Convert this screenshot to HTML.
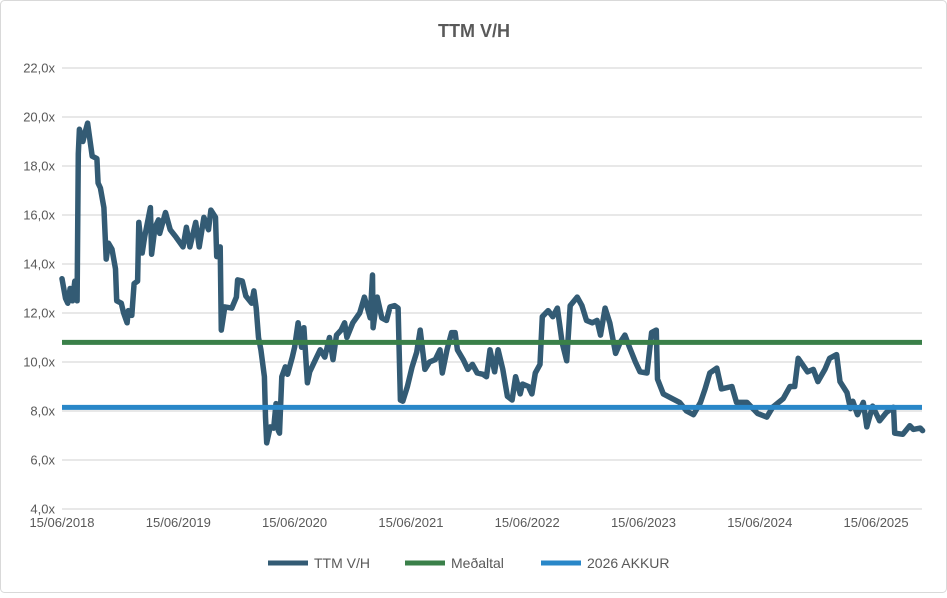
<!DOCTYPE html>
<html><head><meta charset="utf-8"><style>
body{margin:0;background:#fff;}
svg text{font-family:"Liberation Sans",sans-serif;fill:#595959;}
</style></head><body>
<svg width="947" height="593" viewBox="0 0 947 593" id="chart">
<rect x="0.5" y="0.5" width="946" height="592" rx="4" fill="#fff" stroke="#d9d9d9"/>
<text x="474" y="37" text-anchor="middle" font-size="18" font-weight="bold">TTM V/H</text>
<g id="grid"></g><g id="yticks"></g><g id="xticks"></g><g id="series"></g>
<g>
<g><line x1="268" y1="563" x2="308" y2="563" stroke="#335b74" stroke-width="5"/><text x="314" y="568" font-size="14">TTM V/H</text></g>
<g><line x1="405" y1="563" x2="445" y2="563" stroke="#3a8049" stroke-width="5"/><text x="451" y="568" font-size="14">Meðaltal</text></g>
<g><line x1="541" y1="563" x2="581" y2="563" stroke="#2987c8" stroke-width="5"/><text x="587" y="568" font-size="14">2026 AKKUR</text></g>
</g>
</svg>
<script>
const yTicks=[4,6,8,10,12,14,16,18,20,22];
const yTickLabels=["4,0x","6,0x","8,0x","10,0x","12,0x","14,0x","16,0x","18,0x","20,0x","22,0x"];
const xTickYears=[2018.45,2019.45,2020.45,2021.45,2022.45,2023.45,2024.45,2025.45];
const xTickLabels=["15/06/2018","15/06/2019","15/06/2020","15/06/2021","15/06/2022","15/06/2023","15/06/2024","15/06/2025"];
const medaltal=10.8;
const akkur=8.15;
const dates=[2018.45,2018.48,2018.50,2018.52,2018.54,2018.56,2018.58,2018.59,2018.60,2018.63,2018.65,2018.67,2018.71,2018.75,2018.76,2018.78,2018.81,2018.83,2018.85,2018.88,2018.91,2018.92,2018.96,2018.98,2019.01,2019.02,2019.05,2019.07,2019.10,2019.11,2019.14,2019.16,2019.21,2019.22,2019.25,2019.28,2019.29,2019.34,2019.38,2019.43,2019.49,2019.52,2019.55,2019.60,2019.63,2019.67,2019.71,2019.73,2019.77,2019.78,2019.81,2019.82,2019.85,2019.91,2019.95,2019.96,2020.00,2020.03,2020.08,2020.10,2020.12,2020.14,2020.16,2020.19,2020.20,2020.21,2020.24,2020.27,2020.29,2020.31,2020.32,2020.34,2020.37,2020.39,2020.43,2020.45,2020.48,2020.51,2020.53,2020.56,2020.58,2020.63,2020.67,2020.71,2020.75,2020.78,2020.81,2020.85,2020.88,2020.90,2020.95,2021.01,2021.05,2021.10,2021.12,2021.125,2021.16,2021.20,2021.24,2021.27,2021.31,2021.34,2021.36,2021.38,2021.42,2021.46,2021.50,2021.53,2021.57,2021.61,2021.66,2021.70,2021.72,2021.76,2021.80,2021.83,2021.85,2021.90,2021.94,2021.98,2022.02,2022.07,2022.10,2022.13,2022.17,2022.20,2022.24,2022.28,2022.32,2022.35,2022.39,2022.41,2022.46,2022.49,2022.52,2022.56,2022.58,2022.63,2022.67,2022.71,2022.75,2022.79,2022.82,2022.88,2022.92,2022.96,2023.01,2023.05,2023.08,2023.12,2023.16,2023.21,2023.25,2023.29,2023.33,2023.38,2023.42,2023.48,2023.52,2023.56,2023.57,2023.62,2023.70,2023.76,2023.82,2023.88,2023.94,2023.98,2024.02,2024.08,2024.12,2024.21,2024.25,2024.34,2024.43,2024.51,2024.56,2024.65,2024.71,2024.75,2024.78,2024.86,2024.91,2024.95,2025.01,2025.05,2025.11,2025.14,2025.20,2025.23,2025.25,2025.29,2025.34,2025.37,2025.42,2025.48,2025.54,2025.60,2025.61,2025.68,2025.74,2025.77,2025.83,2025.85];
const ttmValues=[13.4,12.6,12.4,13.0,12.5,13.3,12.5,18.5,19.5,19.0,19.4,19.75,18.4,18.3,17.3,17.1,16.3,14.2,14.85,14.6,13.8,12.5,12.4,12.0,11.6,12.1,11.9,13.2,13.3,15.7,14.45,15.1,16.3,14.4,15.5,15.8,15.25,16.1,15.4,15.1,14.7,15.5,14.7,15.7,14.7,15.9,15.4,16.2,15.9,14.3,14.7,11.3,12.25,12.2,12.65,13.35,13.3,12.7,12.4,12.9,12.2,11.0,10.5,9.4,7.75,6.7,7.35,7.3,8.3,7.2,7.1,9.4,9.8,9.5,10.2,10.6,11.6,10.6,11.4,9.15,9.6,10.1,10.5,10.2,11.0,10.1,11.1,11.3,11.6,11.0,11.6,12.0,12.65,11.8,13.55,11.4,12.65,11.8,11.7,12.25,12.3,12.2,8.45,8.4,9.0,9.8,10.4,11.3,9.7,10.0,10.1,10.5,9.55,10.5,11.2,11.2,10.5,10.1,9.7,9.9,9.55,9.5,9.4,10.5,9.6,10.5,9.7,8.6,8.45,9.4,8.7,9.1,9.0,8.7,9.55,9.9,11.85,12.1,11.85,12.2,10.8,10.05,12.3,12.65,12.3,11.7,11.6,11.7,11.1,12.2,11.6,10.35,10.8,11.1,10.6,10.0,9.6,9.55,11.2,11.3,9.3,8.7,8.5,8.35,8.0,7.85,8.35,8.9,9.55,9.75,8.9,9.0,8.35,8.35,7.9,7.75,8.15,8.5,9.0,9.0,10.15,9.6,9.7,9.2,9.7,10.15,10.3,9.2,8.75,8.1,8.4,7.85,8.35,7.35,8.2,7.6,7.95,8.15,7.1,7.05,7.4,7.25,7.3,7.2];

const NS="http://www.w3.org/2000/svg";
const L=62,R=922,T=68,B=509,Y0=4,Y1=22,X0=2018.45,PXY=116.3;
function xs(t){return L+(t-X0)*PXY;}
function ys(v){return B-(v-Y0)/(Y1-Y0)*(B-T);}
function mk(tag,attrs,parent){const e=document.createElementNS(NS,tag);for(const k in attrs)e.setAttribute(k,attrs[k]);parent.appendChild(e);return e;}
const grid=document.getElementById('grid'),yt=document.getElementById('yticks'),xt=document.getElementById('xticks'),se=document.getElementById('series');
yTicks.forEach((v,i)=>{
  const ln=mk('line',{x1:L,x2:R,y1:ys(v),y2:ys(v),stroke:'#d9d9d9','stroke-width':1.3},grid);
  
  
  const tx=mk('text',{x:L-7,y:ys(v)+4.5,'text-anchor':'end','font-size':13},yt);
  tx.textContent=yTickLabels[i];
  
  
});
xTickYears.forEach((t,i)=>{
  const tx=mk('text',{x:xs(t),y:527,'text-anchor':'middle','font-size':13},xt);
  tx.textContent=xTickLabels[i];
  
  
});
const pts=dates.map((t,i)=>xs(t).toFixed(1)+','+ys(ttmValues[i]).toFixed(1)).join(' ');
const pl=mk('polyline',{points:pts,fill:'none',stroke:'#335b74','stroke-width':5.5,'stroke-linejoin':'round','stroke-linecap':'round'},se);


const g1=mk('line',{x1:L,x2:R,y1:ys(medaltal),y2:ys(medaltal),stroke:'#3a8049','stroke-width':5},se);


const b1=mk('line',{x1:L,x2:R,y1:ys(akkur),y2:ys(akkur),stroke:'#2987c8','stroke-width':5},se);


</script>
</body></html>
